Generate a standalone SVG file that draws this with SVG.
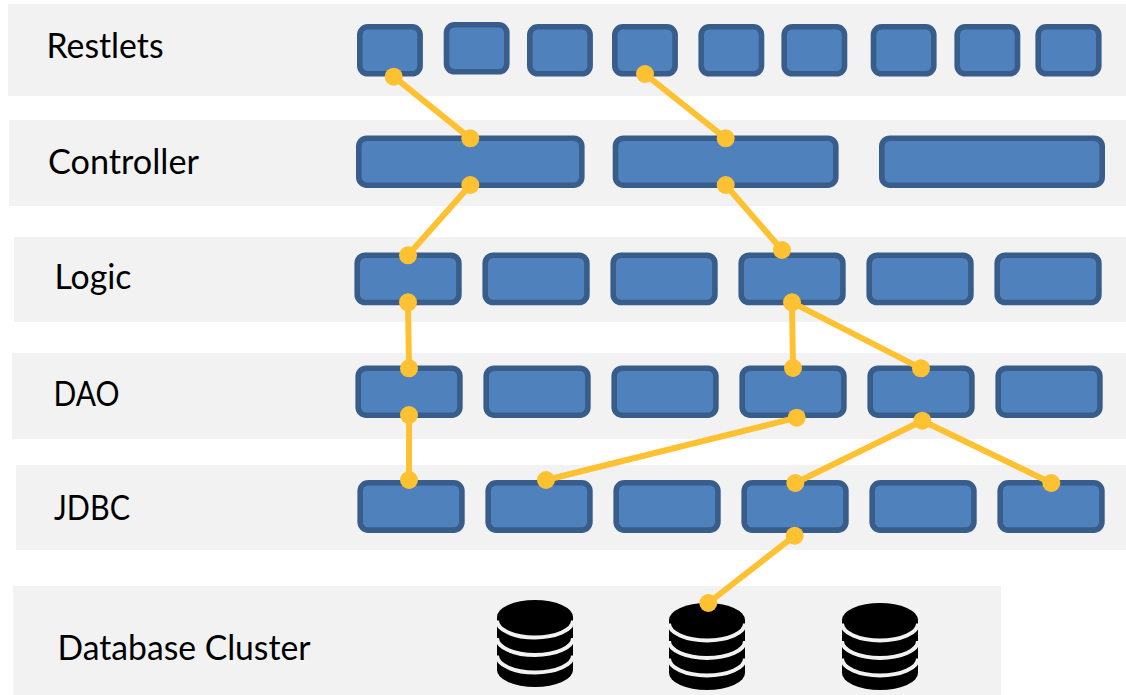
<svg xmlns="http://www.w3.org/2000/svg" xmlns:xlink="http://www.w3.org/1999/xlink" width="1126" height="695" viewBox="0 0 1126 695">
<style>
.band{fill:#f2f2f2}
.b{fill:#4f81bd;stroke:#385d8a;stroke-width:5.600}
text{font-family:"Lato","Open Sans","Liberation Sans",sans-serif;font-size:34px;fill:#000}
.c line{stroke:#fdc131;stroke-width:6}
.c circle{fill:#fdc131}
.stripe{fill:none;stroke:#f2f2f2;stroke-width:4}
</style>
<defs>
<symbol id="db" width="76" height="87" viewBox="0 0 76 87" overflow="visible">
<path d="M0 17A38 17 0 0 1 76 17V70A38 17 0 0 1 0 70Z" fill="#000"/>
<path class="stripe" d="M0 20.500A38 17 0 0 0 76 20.500M0 38A38 17 0 0 0 76 38M0 55.500A38 17 0 0 0 76 55.500"/>
</symbol>
</defs>
<rect x="0" y="0" width="1126" height="695" fill="#fff"/>
<g id="bands">
<rect class="band" x="8" y="4" width="1118" height="92"/>
<rect class="band" x="9" y="120" width="1117" height="86"/>
<rect class="band" x="14" y="237" width="1112" height="85"/>
<rect class="band" x="12" y="353" width="1114" height="86"/>
<rect class="band" x="16" y="465" width="1110" height="85"/>
<rect class="band" x="13" y="586" width="988" height="109"/>
</g>
<g id="labels">
<text id="label-restlets" x="46.500" y="58" textLength="117" lengthAdjust="spacingAndGlyphs">Restlets</text>
<text id="label-controller" x="48" y="174" textLength="151" lengthAdjust="spacingAndGlyphs">Controller</text>
<text id="label-logic" x="54.500" y="289" textLength="77" lengthAdjust="spacingAndGlyphs">Logic</text>
<text id="label-dao" x="53.500" y="406" textLength="66" lengthAdjust="spacingAndGlyphs">DAO</text>
<text id="label-jdbc" x="54" y="520" textLength="76" lengthAdjust="spacingAndGlyphs">JDBC</text>
<text id="label-db" x="57.500" y="660" textLength="253" lengthAdjust="spacingAndGlyphs">Database Cluster</text>
</g>
<g id="restlets">
<g id="r1"><rect class="b" x="359.800" y="26.800" width="60.300" height="47" rx="8"/></g>
<g id="r2"><rect class="b" x="446.500" y="24.800" width="60.300" height="47" rx="8"/></g>
<g id="r3"><rect class="b" x="529.800" y="26.800" width="60.300" height="47" rx="8"/></g>
<g id="r4"><rect class="b" x="614.800" y="26.800" width="60.300" height="47" rx="8"/></g>
<g id="r5"><rect class="b" x="701.200" y="26.800" width="60.300" height="47" rx="8"/></g>
<g id="r6"><rect class="b" x="784.200" y="26.800" width="60.300" height="47" rx="8"/></g>
<g id="r7"><rect class="b" x="873.500" y="26.800" width="60.300" height="47" rx="8"/></g>
<g id="r8"><rect class="b" x="957.200" y="26.800" width="60.300" height="47" rx="8"/></g>
<g id="r9"><rect class="b" x="1038.200" y="26.800" width="60.600" height="47" rx="8"/></g>
</g>
<g id="controllers">
<g id="c1"><rect class="b" x="358.800" y="138.200" width="223" height="47" rx="8"/></g>
<g id="c2"><rect class="b" x="615.500" y="138.200" width="220.300" height="47" rx="8"/></g>
<g id="c3"><rect class="b" x="881.800" y="138.200" width="220.400" height="47" rx="8"/></g>
</g>
<g id="logic">
<g id="l1"><rect class="b" x="357.200" y="255.200" width="101.700" height="47.300" rx="8"/></g>
<g id="l2"><rect class="b" x="485.200" y="255.200" width="101.700" height="47.300" rx="8"/></g>
<g id="l3"><rect class="b" x="613.200" y="255.200" width="101.700" height="47.300" rx="8"/></g>
<g id="l4"><rect class="b" x="741.200" y="255.200" width="101.700" height="47.300" rx="8"/></g>
<g id="l5"><rect class="b" x="869.200" y="255.200" width="101.700" height="47.300" rx="8"/></g>
<g id="l6"><rect class="b" x="997.200" y="255.200" width="101.700" height="47.300" rx="8"/></g>
</g>
<g id="dao">
<g id="d1"><rect class="b" x="358.200" y="368.200" width="101.700" height="47" rx="8"/></g>
<g id="d2"><rect class="b" x="486.200" y="368.200" width="101.700" height="47" rx="8"/></g>
<g id="d3"><rect class="b" x="614.200" y="368.200" width="101.700" height="47" rx="8"/></g>
<g id="d4"><rect class="b" x="742.200" y="368.200" width="101.700" height="47" rx="8"/></g>
<g id="d5"><rect class="b" x="870.200" y="368.200" width="101.700" height="47" rx="8"/></g>
<g id="d6"><rect class="b" x="998.200" y="368.200" width="101.700" height="47" rx="8"/></g>
</g>
<g id="jdbc">
<g id="j1"><rect class="b" x="360.200" y="482.800" width="101.700" height="47.300" rx="8"/></g>
<g id="j2"><rect class="b" x="488.200" y="482.800" width="101.700" height="47.300" rx="8"/></g>
<g id="j3"><rect class="b" x="616.200" y="482.800" width="101.700" height="47.300" rx="8"/></g>
<g id="j4"><rect class="b" x="744.200" y="482.800" width="101.700" height="47.300" rx="8"/></g>
<g id="j5"><rect class="b" x="872.200" y="482.800" width="101.700" height="47.300" rx="8"/></g>
<g id="j6"><rect class="b" x="1000.200" y="482.800" width="101.700" height="47.300" rx="8"/></g>
</g>
<g id="databases">
<g id="db1"><use xlink:href="#db" href="#db" x="497" y="600"/></g>
<g id="db2"><use xlink:href="#db" href="#db" x="669" y="603"/></g>
<g id="db3"><use xlink:href="#db" href="#db" x="842" y="603"/></g>
</g>
<g id="connectors" class="c">
<line x1="393.700" y1="76.700" x2="470.300" y2="138.300"/>
<line x1="645" y1="74" x2="725.700" y2="138.300"/>
<line x1="470.300" y1="185" x2="408" y2="255.300"/>
<line x1="725.700" y1="185" x2="782" y2="250"/>
<line x1="408" y1="302.300" x2="409" y2="368.300"/>
<line x1="792" y1="302.300" x2="793" y2="368"/>
<line x1="792" y1="302.300" x2="921" y2="368.300"/>
<line x1="409" y1="415" x2="409" y2="480"/>
<line x1="796.700" y1="417.700" x2="546" y2="480"/>
<line x1="922.300" y1="420.700" x2="795.300" y2="483"/>
<line x1="922.300" y1="420.700" x2="1051.300" y2="483"/>
<line x1="794.700" y1="535.700" x2="708.300" y2="603"/>
<circle cx="393.700" cy="76.700" r="9"/><circle cx="470.300" cy="138.300" r="9"/>
<circle cx="645" cy="74" r="9"/><circle cx="725.700" cy="138.300" r="9"/>
<circle cx="470.300" cy="185" r="9"/><circle cx="408" cy="255.300" r="9"/>
<circle cx="725.700" cy="185" r="9"/><circle cx="782" cy="250" r="9"/>
<circle cx="408" cy="302.300" r="9"/><circle cx="409" cy="368.300" r="9"/>
<circle cx="792" cy="302.300" r="9"/><circle cx="793" cy="368" r="9"/><circle cx="921" cy="368.300" r="9"/>
<circle cx="409" cy="415" r="9"/><circle cx="409" cy="480" r="9"/>
<circle cx="796.700" cy="417.700" r="9"/><circle cx="546" cy="480" r="9"/>
<circle cx="922.300" cy="420.700" r="9"/><circle cx="795.300" cy="483" r="9"/><circle cx="1051.300" cy="483" r="9"/>
<circle cx="794.700" cy="535.700" r="9"/><circle cx="708.300" cy="603" r="9"/>
</g>
</svg>
